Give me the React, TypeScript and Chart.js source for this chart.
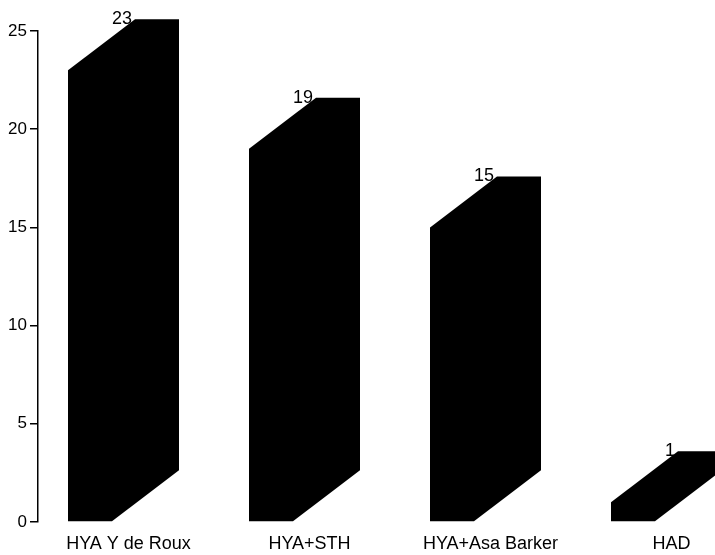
import React, { useEffect, useRef } from "react";
import { Chart, registerables } from "chart.js";

Chart.register(...registerables);

const categories = ["HYA Y de Roux", "HYA+STH", "HYA+Asa Barker", "HAD"];
const values = [23, 19, 15, 1];
const yMin = 0;
const yMax = 25;
const yStep = 5;

const FRONT_W = 44;
const DEPTH_X = 67;
const DEPTH_Y = 51;
const SHIFT_X = -5;
const FONT = "'Liberation Sans', Arial, Helvetica, sans-serif";

const prismPlugin = {
  id: "prism",
  afterDatasetsDraw(chart: any) {
    const ctx = chart.ctx;
    const meta = chart.getDatasetMeta(0);
    const data = chart.data.datasets[0].data as number[];
    ctx.save();
    meta.data.forEach((el: any, i: number) => {
      const { x, y, base } = el.getProps(["x", "y", "base"], true);
      const x0 = x - (FRONT_W + DEPTH_X) / 2 + SHIFT_X;
      const x1 = x0 + FRONT_W;
      ctx.beginPath();
      ctx.moveTo(x0, base);
      ctx.lineTo(x0, y);
      ctx.lineTo(x0 + DEPTH_X, y - DEPTH_Y);
      ctx.lineTo(x1 + DEPTH_X, y - DEPTH_Y);
      ctx.lineTo(x1 + DEPTH_X, base - DEPTH_Y);
      ctx.lineTo(x1, base);
      ctx.closePath();
      ctx.fillStyle = "#000";
      ctx.fill();
      ctx.font = `18px ${FONT}`;
      ctx.textAlign = "right";
      ctx.textBaseline = "middle";
      ctx.fillText(String(data[i]), x0 + DEPTH_X - 3, y - DEPTH_Y);
    });
    ctx.restore();
  },
};

export default function App() {
  const ref = useRef<HTMLCanvasElement | null>(null);
  useEffect(() => {
    if (!ref.current) return;
    const chart = new Chart(ref.current, {
      type: "bar",
      data: {
        labels: categories,
        datasets: [
          {
            data: values,
            backgroundColor: "rgba(0,0,0,0)",
            borderWidth: 0,
          },
        ],
      },
      options: {
        animation: false,
        responsive: false,
        maintainAspectRatio: false,
        devicePixelRatio: 1,
        layout: { padding: { left: 0, right: 0, top: 31, bottom: 0 } },
        plugins: {
          legend: { display: false },
          tooltip: { enabled: false },
          title: { display: false },
        },
        scales: {
          x: {
            type: "category",
            offset: true,
            grid: { display: false, drawTicks: false },
            border: { display: false },
            ticks: {
              color: "#000",
              font: { family: FONT, size: 18 },
              padding: 11,
              maxRotation: 0,
              autoSkip: false,
            },
            afterFit: (s: any) => {
              s.height = 33;
            },
          },
          y: {
            min: yMin,
            max: yMax,
            grid: {
              drawOnChartArea: false,
              drawTicks: true,
              tickLength: 8,
              color: "#000",
              lineWidth: 1.5,
            },
            border: { display: true, color: "#000", width: 1.5 },
            ticks: {
              stepSize: yStep,
              color: "#000",
              font: { family: FONT, size: 17 },
              padding: 3,
            },
            afterFit: (s: any) => {
              s.width = 38;
            },
          },
        },
      },
      plugins: [prismPlugin],
    });
    return () => chart.destroy();
  }, []);

  return (
    <div
      style={{
        position: "fixed",
        left: 0,
        top: 0,
        width: 715,
        height: 555,
        overflow: "hidden",
        background: "#fff",
      }}
    >
      <canvas ref={ref} width={762} height={555} style={{ display: "block" }} />
    </div>
  );
}
